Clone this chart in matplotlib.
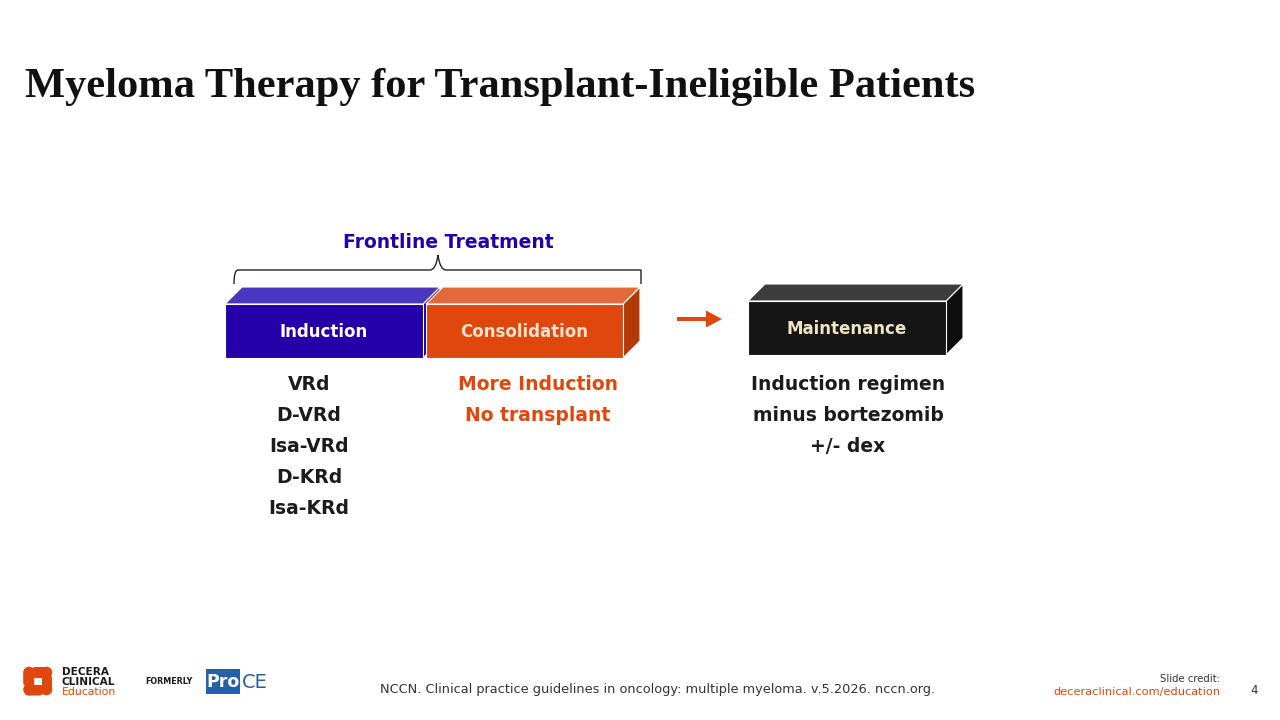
import matplotlib.pyplot as plt
from matplotlib.patches import Polygon, Rectangle, Circle, FancyArrow, FancyBboxPatch
from matplotlib.path import Path
from matplotlib.patches import PathPatch

# Texte
title = "Myeloma Therapy for Transplant-Ineligible Patients"
header = "Frontline Treatment"
stages = ["Induction", "Consolidation", "Maintenance"]
induction_regimens = ["VRd", "D-VRd", "Isa-VRd", "D-KRd", "Isa-KRd"]
consolidation_notes = ["More Induction", "No transplant"]
maintenance_notes = ["Induction regimen", "minus bortezomib", "+/- dex"]
reference = "NCCN. Clinical practice guidelines in oncology: multiple myeloma. v.5.2026. nccn.org."

SANS = ["DejaVu Sans"]
ORANGE = "#E0470C"
INDIGO = "#2300A8"

fig = plt.figure(figsize=(12.8, 7.2), dpi=100)
ax = fig.add_axes([0, 0, 1, 1])
ax.set_xlim(0, 1280)
ax.set_ylim(720, 0)
ax.axis("off")


def box3d(x, y, w, h, d, front, top, side, label, label_color):
    # Seitenfläche, Oberseite, Vorderseite
    ax.add_patch(Polygon([(x + w, y), (x + w + d, y - d), (x + w + d, y + h - d), (x + w, y + h)],
                         closed=True, fc=side, ec="white", lw=0.8))
    ax.add_patch(Polygon([(x, y), (x + d, y - d), (x + w + d, y - d), (x + w, y)],
                         closed=True, fc=top, ec="white", lw=0.8))
    ax.add_patch(Rectangle((x, y), w, h, fc=front, ec="white", lw=0.8))
    ax.text(x + w / 2, y + h / 2 + 1, label, ha="center", va="center", color=label_color,
            fontsize=12, fontweight="bold", family=SANS)


# Titel
ax.text(25, 87, title, ha="left", va="center", fontsize=30.6, fontweight="bold",
        family=["Liberation Serif", "DejaVu Serif"], color="#111111")

# Boxen
box3d(225, 304, 198, 54, 17, INDIGO, "#4B36C2", "#1A0085", stages[0], "white")
box3d(426, 304, 197, 54, 17, ORANGE, "#E2693A", "#B23A06", stages[1], "#F6E3CF")
box3d(748, 301, 198, 54, 17, "#151515", "#3C3C3C", "#0E0E0E", stages[2], "#EFE4C4")

# Geschweifte Klammer
xl, xr, xm = 234, 641, 438
yb, yl, yt = 284, 270, 255
verts = [(xl, yb), (xl, yl), (xl + 4, yl), (xl + 8, yl),
         (xm - 8, yl), (xm - 2, yl), (xm, yt),
         (xm + 2, yl), (xm + 8, yl),
         (xr - 8, yl), (xr - 4, yl), (xr, yl), (xr, yb)]
codes = [Path.MOVETO, Path.CURVE3, Path.CURVE3, Path.LINETO,
         Path.LINETO, Path.CURVE3, Path.CURVE3,
         Path.CURVE3, Path.CURVE3,
         Path.LINETO, Path.CURVE3, Path.CURVE3, Path.LINETO]
ax.add_patch(PathPatch(Path(verts, codes), fc="none", ec="#222222", lw=1.0))

ax.text(448, 242, header, ha="center", va="center", color=INDIGO, fontsize=13.5,
        fontweight="bold", family=SANS)

# Pfeil
ax.add_patch(FancyArrow(677, 319, 45, 0, width=4, head_width=17, head_length=16,
                        length_includes_head=True, fc=ORANGE, ec="none"))

# Listen unter den Boxen
for i, t in enumerate(induction_regimens):
    ax.text(309, 385 + i * 30.8, t, ha="center", va="center", fontsize=13.5,
            fontweight="bold", family=SANS, color="#1B1B1B")
for i, t in enumerate(consolidation_notes):
    ax.text(538, 385 + i * 30.5, t, ha="center", va="center", fontsize=13.5,
            fontweight="bold", family=SANS, color=ORANGE)
for i, t in enumerate(maintenance_notes):
    ax.text(848, 385 + i * 30.5, t, ha="center", va="center", fontsize=13.5,
            fontweight="bold", family=SANS, color="#1B1B1B")

# Fußzeile
ax.text(658, 689, reference, ha="center", va="center", fontsize=9.3, family=SANS, color="#333333")
ax.text(1220, 679, "Slide credit:", ha="right", va="center", fontsize=7.3, family=SANS, color="#333333")
ax.text(1221, 692, "deceraclinical.com/education", ha="right", va="center", fontsize=8.2,
        family=SANS, color=ORANGE)
ax.text(1254, 691, "4", ha="center", va="center", fontsize=8.5, family=SANS, color="#333333")

# Logo
for cx, cy in [(29, 672.5), (46.5, 672.5), (29, 689.5), (46.5, 689.5)]:
    ax.add_patch(Circle((cx, cy), 5.8, fc=ORANGE, ec="none"))
ax.add_patch(FancyBboxPatch((32, 667), 18, 11, boxstyle="round,pad=0,rounding_size=3.5", fc=ORANGE, ec="none"))
ax.add_patch(FancyBboxPatch((25, 684.5), 18, 11, boxstyle="round,pad=0,rounding_size=3.5", fc=ORANGE, ec="none"))
ax.add_patch(FancyBboxPatch((23.2, 672), 11, 14, boxstyle="round,pad=0,rounding_size=3.5", fc=ORANGE, ec="none"))
ax.add_patch(FancyBboxPatch((41, 675), 11, 14, boxstyle="round,pad=0,rounding_size=3.5", fc=ORANGE, ec="none"))
ax.add_patch(Rectangle((34.5, 677.5), 7, 7, fc="white", ec="none"))
ax.text(62, 672, "DECERA", ha="left", va="center", fontsize=7.6, fontweight="bold",
        family=SANS, color="#1A1A1A")
ax.text(62, 682, "CLINICAL", ha="left", va="center", fontsize=7.6, fontweight="bold",
        family=SANS, color="#1A1A1A")
ax.text(62, 692, "Education", ha="left", va="center", fontsize=7.8, family=SANS, color=ORANGE)
ax.text(145, 682, "FORMERLY", ha="left", va="center", fontsize=5.8, fontweight="bold",
        family=SANS, color="#1A1A1A")
ax.add_patch(Rectangle((206, 669), 34, 25, fc="#2860A8", ec="none"))
ax.text(223, 682, "Pro", ha="center", va="center", fontsize=12.5, fontweight="bold",
        family=SANS, color="white")
ax.text(241.5, 682, "CE", ha="left", va="center", fontsize=14, family=SANS, color="#2860A8")

plt.savefig("out.png", dpi=100)
